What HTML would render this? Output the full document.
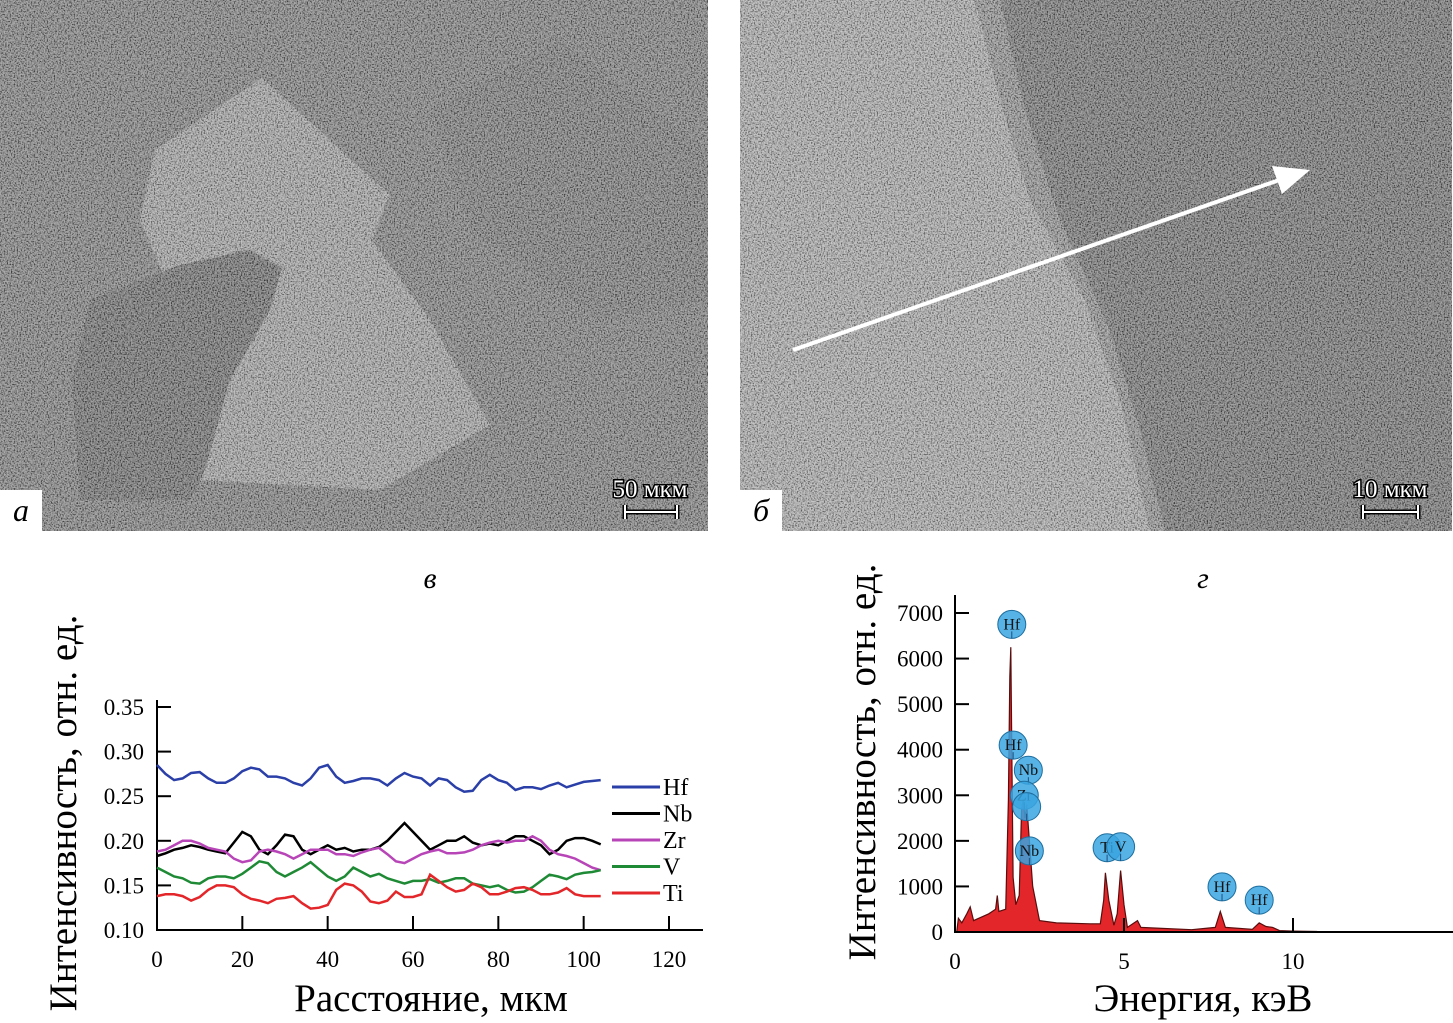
<!DOCTYPE html>
<html><head><meta charset="utf-8"><style>
html,body{margin:0;padding:0;background:#fff;}
body{width:1453px;height:1023px;overflow:hidden;position:relative;font-family:"Liberation Serif",serif;}
svg{position:absolute;left:0;top:0;}
</style></head><body>
<svg width="1453" height="1023" viewBox="0 0 1453 1023" font-family="Liberation Serif, serif">
<defs>
<filter id="noise" x="0" y="0" width="100%" height="100%">
<feTurbulence type="fractalNoise" baseFrequency="0.7" numOctaves="2" seed="3" result="t"/>
<feColorMatrix in="t" type="matrix" values="2.6 0 0 0 -0.8  2.6 0 0 0 -0.8  2.6 0 0 0 -0.8  0 0 0 0 0.42"/>
</filter>
<clipPath id="ca"><rect x="0" y="0" width="708" height="531"/></clipPath>
<clipPath id="cb"><rect x="740" y="0" width="712" height="531"/></clipPath>
</defs>

<g clip-path="url(#ca)">
<rect x="0" y="0" width="708" height="531" fill="#727272"/>
<polygon points="155,150 262,78 390,195 372,240 430,320 490,425 380,490 200,480 215,420 232,300 285,268 240,250 170,290 140,220" fill="#999"/>
<polygon points="90,300 180,265 250,250 282,268 270,310 230,380 205,470 190,500 80,500 72,380" fill="#5f5f5f"/>
<polygon points="430,110 560,40 708,150 708,300 600,320 470,230" fill="#6c6c6c"/>
<rect x="0" y="0" width="708" height="531" filter="url(#noise)"/>
</g>
<rect x="0" y="490" width="42" height="41" fill="#fff"/>
<text x="21" y="521" font-size="32" font-style="italic" text-anchor="middle">а</text>
<g>
<text x="650" y="497" font-size="25" text-anchor="middle" fill="#fff" stroke="#000" stroke-width="3" paint-order="stroke">50 мкм</text>
<path d="M625,505 v14 M625,512 H677 M677,505 v14" stroke="#000" stroke-width="5" fill="none"/>
<path d="M625,505 v14 M625,512 H677 M677,505 v14" stroke="#fff" stroke-width="2" fill="none"/>
</g>

<g clip-path="url(#cb)">
<rect x="740" y="0" width="712" height="531" fill="#666"/>
<polygon points="740,0 975,0 1000,100 1030,200 1085,300 1120,400 1150,531 740,531" fill="#a2a2a2"/>
<polygon points="975,0 1000,0 1025,110 1060,220 1110,330 1140,430 1165,531 1150,531 1120,400 1085,300 1030,200 1000,100" fill="#858585"/>
<rect x="740" y="0" width="712" height="531" filter="url(#noise)"/>
</g>
<g>
<line x1="793" y1="350" x2="1285" y2="178" stroke="#fff" stroke-width="4"/>
<polygon points="1310,170 1272,166 1282,194" fill="#fff"/>
</g>
<rect x="740" y="490" width="42" height="41" fill="#fff"/>
<text x="761" y="521" font-size="32" font-style="italic" text-anchor="middle">б</text>
<g>
<text x="1390" y="497" font-size="25" text-anchor="middle" fill="#fff" stroke="#000" stroke-width="3" paint-order="stroke">10 мкм</text>
<path d="M1363,505 v14 M1363,512 H1418 M1418,505 v14" stroke="#000" stroke-width="5" fill="none"/>
<path d="M1363,505 v14 M1363,512 H1418 M1418,505 v14" stroke="#fff" stroke-width="2" fill="none"/>
</g>

<text x="430" y="588" font-size="30" font-style="italic" text-anchor="middle">в</text>
<text x="1203" y="588" font-size="30" font-style="italic" text-anchor="middle">г</text>

<g id="chartV"></g>
<g id="chartG"></g>
</svg>
<script>
const NS='http://www.w3.org/2000/svg';
const profileX=[0,2,4,6,8,10,12,14,16,18,20,22,24,26,28,30,32,34,36,38,40,42,44,46,48,50,52,54,56,58,60,62,64,66,68,70,72,74,76,78,80,82,84,86,88,90,92,94,96,98,100,102,104];
const hf=[0.285,0.275,0.268,0.27,0.276,0.277,0.27,0.265,0.265,0.27,0.278,0.282,0.28,0.272,0.272,0.27,0.265,0.262,0.27,0.282,0.285,0.272,0.265,0.267,0.27,0.27,0.268,0.262,0.27,0.276,0.272,0.27,0.262,0.27,0.268,0.26,0.255,0.256,0.268,0.274,0.268,0.265,0.257,0.26,0.26,0.258,0.262,0.265,0.26,0.263,0.266,0.267,0.268];
const nb=[0.183,0.186,0.19,0.192,0.195,0.193,0.19,0.188,0.186,0.198,0.21,0.205,0.19,0.185,0.195,0.207,0.205,0.19,0.185,0.19,0.195,0.19,0.192,0.188,0.19,0.19,0.193,0.2,0.21,0.22,0.21,0.2,0.19,0.195,0.2,0.2,0.205,0.198,0.195,0.197,0.195,0.2,0.205,0.205,0.2,0.195,0.185,0.19,0.2,0.203,0.203,0.2,0.196];
const zr=[0.188,0.19,0.195,0.2,0.2,0.197,0.192,0.19,0.188,0.18,0.176,0.178,0.188,0.19,0.188,0.185,0.18,0.185,0.19,0.19,0.19,0.185,0.185,0.183,0.187,0.19,0.192,0.185,0.177,0.175,0.18,0.185,0.188,0.19,0.186,0.186,0.187,0.19,0.195,0.198,0.2,0.198,0.2,0.2,0.205,0.2,0.19,0.185,0.183,0.18,0.175,0.17,0.167];
const vv=[0.17,0.165,0.16,0.158,0.153,0.152,0.158,0.16,0.16,0.158,0.163,0.17,0.177,0.175,0.165,0.16,0.165,0.17,0.176,0.168,0.16,0.155,0.16,0.17,0.165,0.16,0.163,0.158,0.155,0.152,0.155,0.155,0.157,0.153,0.155,0.158,0.158,0.152,0.15,0.148,0.15,0.145,0.142,0.143,0.148,0.155,0.162,0.16,0.157,0.162,0.164,0.165,0.167];
const ti=[0.138,0.14,0.14,0.138,0.133,0.137,0.145,0.15,0.15,0.148,0.14,0.135,0.133,0.13,0.135,0.136,0.138,0.13,0.124,0.125,0.128,0.145,0.152,0.15,0.143,0.132,0.13,0.133,0.143,0.137,0.137,0.14,0.162,0.155,0.148,0.143,0.145,0.152,0.148,0.14,0.14,0.143,0.147,0.148,0.145,0.14,0.14,0.142,0.147,0.14,0.138,0.138,0.138];
const seriesNames=['Hf','Nb','Zr','V','Ti'];
const seriesColors=['#2b3fa8','#000000','#b845b8','#1f8a35','#e3262a'];
const profileXTicks=[0,20,40,60,80,100,120];
const profileYTicks=[0.10,0.15,0.20,0.25,0.30,0.35];
const profileYLabels=['0.10','0.15','0.20','0.25','0.30','0.35'];

const specE=[0.05,0.1,0.2,0.35,0.45,0.55,0.7,1.0,1.2,1.25,1.3,1.5,1.58,1.62,1.65,1.68,1.72,1.8,1.9,1.97,2.02,2.07,2.12,2.2,2.3,2.5,3,4,4.3,4.4,4.45,4.55,4.7,4.8,4.9,5.0,5.1,5.4,5.5,7,7.7,7.85,8,8.8,9.0,9.2,9.4,9.6,10,10.7,10.8];
const specC=[0,300,200,400,550,250,300,400,500,800,450,500,2900,5600,6250,4000,1200,600,800,2700,2900,2500,2800,2000,1000,250,200,180,180,700,1300,700,150,400,1350,600,100,250,100,50,100,450,100,60,200,120,100,30,20,10,0];
const markerE=[1.68,1.72,2.17,2.05,2.12,2.2,4.5,4.9,7.9,9.0];
const markerC=[6750,4100,3550,3000,2750,1780,1850,1870,990,700];
const markerLabels=['Hf','Hf','Nb','Zr','','Nb','Ti','V','Hf','Hf'];
const specXTicks=[0,5,10];
const specYTicks=[0,1000,2000,3000,4000,5000,6000,7000];

function el(tag,attrs,parent,txt){const e=document.createElementNS(NS,tag);for(const k in attrs)e.setAttribute(k,attrs[k]);if(txt!==undefined)e.textContent=txt;parent.appendChild(e);return e;}

const gv=document.getElementById('chartV');
const xV=v=>157+v*(512/120);
const yV=v=>930-(v-0.10)*(223/0.25);
let ax=el('path',{d:`M${xV(0)},700 V930 H703`,stroke:'#000','stroke-width':2,fill:'none'},gv);

profileYTicks.forEach((t,i)=>{
 const tk=el('line',{x1:157,x2:171,y1:yV(t),y2:yV(t),stroke:'#000','stroke-width':2},gv);
 
 const lb=el('text',{x:144,y:yV(t)+8,'font-size':23,'text-anchor':'end'},gv,profileYLabels[i]);
 
});
profileXTicks.forEach(t=>{
 const tk=el('line',{x1:xV(t),x2:xV(t),y1:916,y2:930,stroke:'#000','stroke-width':2},gv);
 
 const lb=el('text',{x:xV(t),y:967,'font-size':23,'text-anchor':'middle'},gv,String(t));
 
});
[hf,nb,zr,vv,ti].forEach((s,k)=>{
 const d=s.map((v,i)=>(i?'L':'M')+xV(profileX[i]).toFixed(1)+','+yV(v).toFixed(1)).join('');
 const p=el('path',{d,stroke:seriesColors[k],'stroke-width':2.5,fill:'none'},gv);
 
 const ly=787+k*26.5;
 const ll=el('line',{x1:612,x2:660,y1:ly,y2:ly,stroke:seriesColors[k],'stroke-width':3},gv);
 
 const lt=el('text',{x:663,y:ly+8,'font-size':24},gv,seriesNames[k]);
 
});
let t1=el('text',{x:431,y:1011,'font-size':39,'text-anchor':'middle'},gv,'Расстояние, мкм');

let t2=el('text',{x:0,y:0,'font-size':39,'text-anchor':'middle',transform:'translate(76,813) rotate(-90)'},gv,'Интенсивность, отн. ед.');


const gg=document.getElementById('chartG');
const xG=e=>955+e*33.8;
const yG=c=>932-c*(319/7000);
let sp=el('path',{d:'M'+xG(specE[0])+','+yG(0)+specE.map((e,i)=>'L'+xG(e).toFixed(1)+','+yG(specC[i]).toFixed(1)).join('')+'Z',fill:'#e3262a',stroke:'#5a0d0d','stroke-width':1.2},gg);

let ax2=el('path',{d:`M955,595 V932 H1453`,stroke:'#000','stroke-width':2,fill:'none'},gg);

specYTicks.forEach(t=>{
 const tk=el('line',{x1:955,x2:969,y1:yG(t),y2:yG(t),stroke:'#000','stroke-width':2},gg);
 
 const lb=el('text',{x:943,y:yG(t)+8,'font-size':23,'text-anchor':'end'},gg,String(t));
 
});
specXTicks.forEach(t=>{
 const tk=el('line',{x1:xG(t),x2:xG(t),y1:918,y2:932,stroke:'#000','stroke-width':2},gg);
 
 const lb=el('text',{x:xG(t),y:969,'font-size':23,'text-anchor':'middle'},gg,String(t));
 
});
markerE.forEach((e,i)=>{
 const cx=xG(e),cy=yG(markerC[i]);
 const c=el('circle',{cx,cy,r:14,fill:'#3aa5e0','fill-opacity':0.85,stroke:'#1f6f9f','stroke-width':1},gg);
 
 el('line',{x1:cx,x2:cx,y1:cy+7,y2:cy+14,stroke:'#1f4f7f','stroke-width':1},gg);
 if(markerLabels[i]){const tx=el('text',{x:cx,y:cy+5,'font-size':16,'text-anchor':'middle',fill:'#111'},gg,markerLabels[i]);
 }
});
let t3=el('text',{x:1203,y:1011,'font-size':39,'text-anchor':'middle'},gg,'Энергия, кэВ');

let t4=el('text',{x:0,y:0,'font-size':39,'text-anchor':'middle',transform:'translate(875,762) rotate(-90)'},gg,'Интенсивность, отн. ед.');

</script>
</body></html>
